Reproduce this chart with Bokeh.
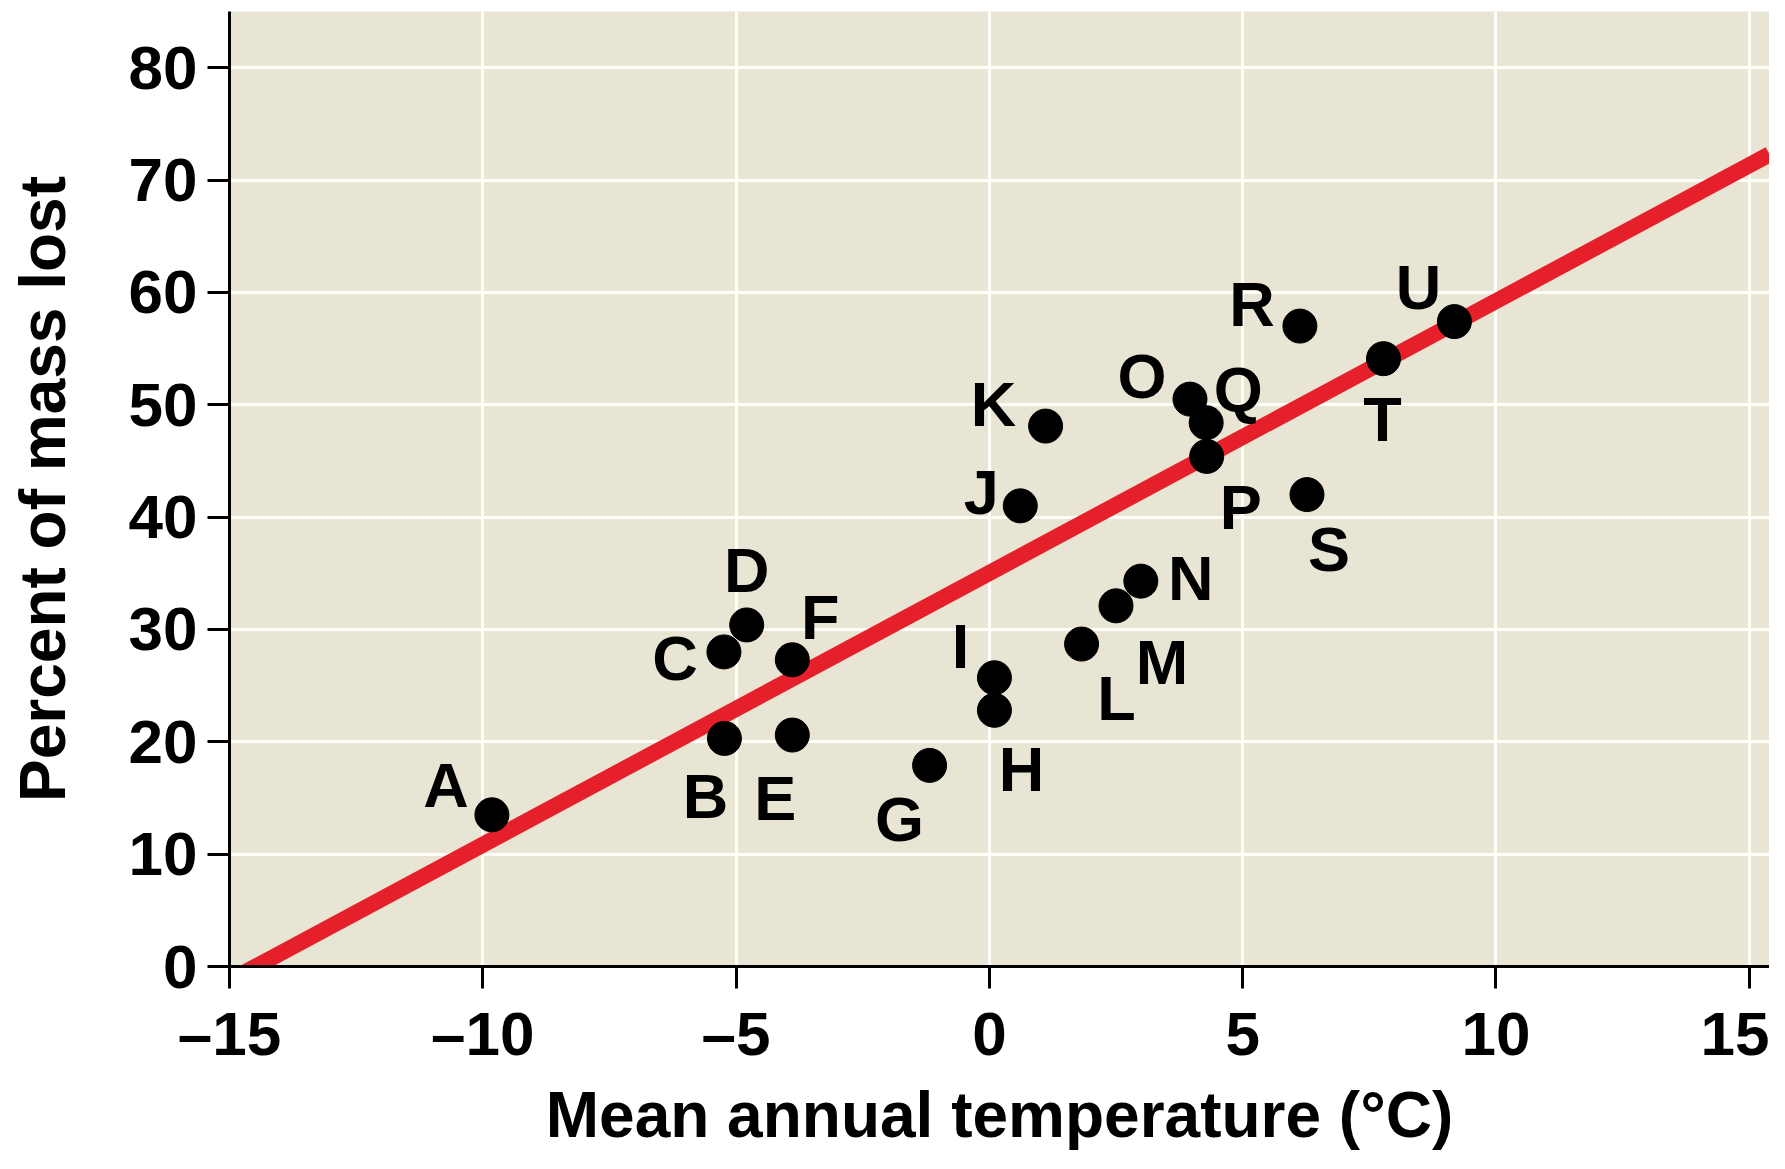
from bokeh.plotting import figure
from bokeh.models import ColumnDataSource, Range1d
from bokeh.core.properties import value
from bokeh.embed import file_html
from bokeh.resources import INLINE

# ---- data ----
labels = ["A", "B", "C", "D", "E", "F", "G", "H", "I", "J", "K",
          "L", "M", "N", "O", "P", "Q", "R", "S", "T", "U"]
temperature = [-9.82, -5.23, -5.24, -4.79, -3.89, -3.89, -1.18, 0.10, 0.10, 0.61, 1.11,
               1.82, 2.50, 2.99, 3.96, 4.29, 4.28, 6.13, 6.27, 7.78, 9.18]
mass_lost = [13.5, 20.3, 28.0, 30.4, 20.6, 27.3, 17.9, 22.8, 25.7, 41.0, 48.1,
             28.7, 32.1, 34.3, 50.5, 45.4, 48.4, 57.0, 42.0, 54.1, 57.4]

fit_slope = 2.419
fit_intercept = 35.03

x_ticks = [-15, -10, -5, 0, 5, 10, 15]
x_tick_labels = ["\u201315", "\u201310", "\u20135", "0", "5", "10", "15"]
y_ticks = [0, 10, 20, 30, 40, 50, 60, 70, 80]

# label placement (screen px, positive dy = downward)
label_dx = [-46, -19, -49, 0, -17, 28, -30, 27, -34, -39, -52,
            35, 46, 50, -48, 34, 32, -48, 22, -1, -36]
label_dy = [-30, 58, 6, -55, 63, -43, 54, 59, -32, -14, -22,
            54, 56, -3, -23, 51, -34, -22, 54, 60, -35]

X_START, X_END = -15, 15.40
Y_START, Y_END = 0, 85

FONT = "Liberation Sans"

p = figure(width=1769, height=1153,
           x_range=Range1d(X_START, X_END), y_range=Range1d(Y_START, Y_END),
           output_backend="svg", toolbar_location=None,
           min_border_left=229, min_border_right=0,
           min_border_top=11, min_border_bottom=180)

p.background_fill_color = "#e8e5d4"
p.border_fill_color = "white"
p.outline_line_color = None

p.xaxis.ticker = x_ticks
p.yaxis.ticker = y_ticks
p.xaxis.major_label_overrides = {t: l for t, l in zip(x_ticks, x_tick_labels)}

p.grid.grid_line_color = "#fffef8"
p.grid.grid_line_width = 3

for ax in (p.xaxis, p.yaxis):
    ax.axis_line_color = "black"
    ax.axis_line_width = 3
    ax.major_tick_line_color = "black"
    ax.major_tick_line_width = 3
    ax.major_tick_out = 22
    ax.major_tick_in = 0
    ax.minor_tick_line_color = None
    ax.major_label_text_font = FONT
    ax.major_label_text_font_style = "bold"
    ax.major_label_text_font_size = "62px"
    ax.major_label_text_color = "black"
    ax.axis_label_text_font = FONT
    ax.axis_label_text_font_style = "bold"
    ax.axis_label_text_font_size = "64px"
    ax.axis_label_text_color = "black"

p.xaxis.axis_label = "Mean annual temperature (\u00b0C)"
p.yaxis.axis_label = "Percent of mass lost"
p.yaxis.major_label_standoff = 10
p.xaxis.major_label_standoff = 10
p.yaxis.axis_label_standoff = 47
p.xaxis.axis_label_standoff = 8

# regression line
fit_x = [X_START, X_END]
fit_y = [fit_slope * x + fit_intercept for x in fit_x]
p.line(fit_x, fit_y, line_color="#e6202a", line_width=16)

src = ColumnDataSource(dict(x=temperature, y=mass_lost, label=labels,
                            dx=label_dx, dy=label_dy))
p.scatter("x", "y", source=src, size=34, fill_color="black", line_color="black")
p.text("x", "y", text="label", source=src, x_offset="dx", y_offset="dy",
       text_font=value(FONT), text_font_style="bold", text_font_size="63px",
       text_align="center", text_baseline="middle", text_color="black")

open("out.html", "w").write(file_html(p, INLINE))
